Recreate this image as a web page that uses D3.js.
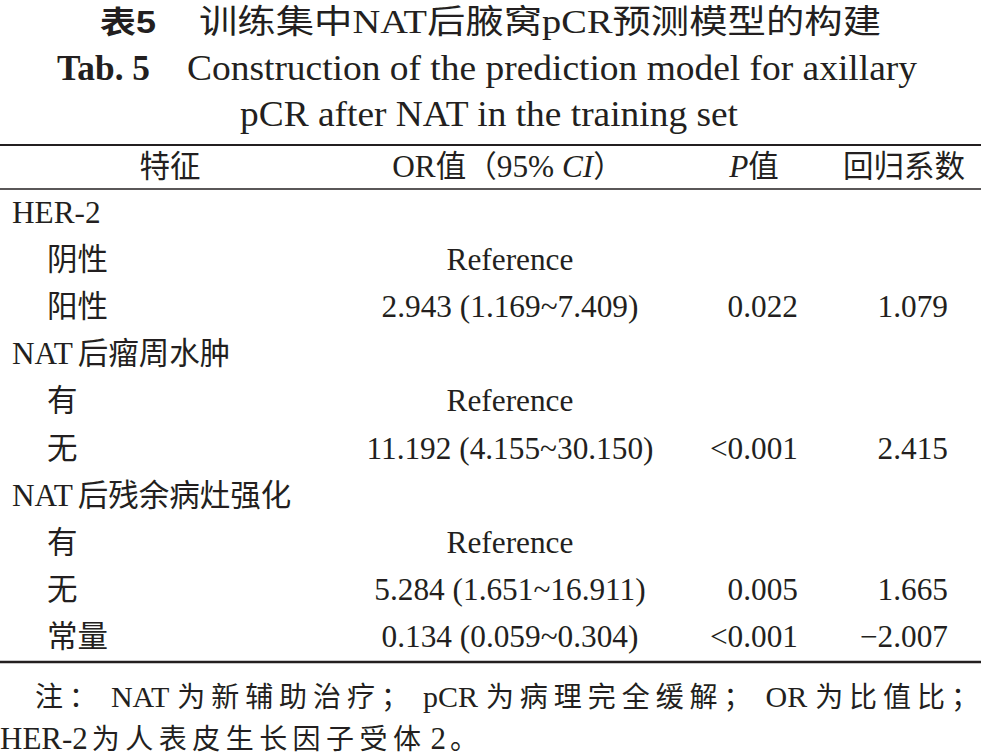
<!DOCTYPE html>
<html><head><meta charset="utf-8">
<script src="https://cdn.jsdelivr.net/npm/d3@7"></script>
<style>
html,body{margin:0;padding:0;background:#fff;}
svg{display:block;}
text{fill:#231f20;}
</style></head>
<body>
<svg id="c" width="981" height="755"></svg>
<script>
// ---- data ----
const titleCN = ["表5", "训练集中NAT后腋窝pCR预测模型的构建"];
const titleEN = ["Tab. 5", "Construction of the prediction model for axillary", "pCR after NAT in the training set"];
const headers = ["特征", "OR", "值（", "95% ", "CI", "）", "P", "值", "回归系数"];
const rowLabels = ["HER-2", "阴性", "阳性", "NAT后瘤周水肿", "有", "无", "NAT后残余病灶强化", "有", "无", "常量"];
const rowLevels = [0, 1, 1, 0, 1, 1, 0, 1, 1, 1];
const orValues = ["", "Reference", "2.943 (1.169~7.409)", "", "Reference", "11.192 (4.155~30.150)", "", "Reference", "5.284 (1.651~16.911)", "0.134 (0.059~0.304)"];
const pValues = ["", "", "0.022", "", "", "<0.001", "", "", "0.005", "<0.001"];
const coefValues = ["", "", "1.079", "", "", "2.415", "", "", "1.665", "\u22122.007"];
const notes = ["注：NAT为新辅助治疗；pCR为病理完全缓解；OR为比值比；", "HER-2为人表皮生长因子受体2。"];

// ---- drawing ----
const W = 981, H = 755;
const svg = d3.select("#c");
const serif = "'Liberation Serif','Times New Roman','Noto Sans CJK SC',serif";
const ink = "#231f20";
const CJK = /[\u3000-\u303f\u4e00-\u9fff\uff00-\uffef]/;
const RUNS = /[\u3000-\u303f\u4e00-\u9fff\uff00-\uffef]+|[^\u3000-\u303f\u4e00-\u9fff\uff00-\uffef]+/g;

function rich(t, str, latin, cjk, gap) {
  const runs = str.match(RUNS) || [];
  runs.forEach((r, k) => {
    const isC = CJK.test(r);
    const last = k === runs.length - 1;
    const body = (isC && last) ? r.slice(0, -1) : r;
    if (body.length) {
      t.append("tspan").attr("class", isC ? "cjk" : "lat")
        .attr("font-size", isC ? cjk : latin)
        .attr("dx", k > 0 ? gap : null).text(body);
    }
    if (isC && last) {
      t.append("tspan").attr("class", "cjkEnd").attr("font-size", cjk)
        .attr("dx", (!body.length && k > 0) ? gap : null).text(r.slice(-1));
    }
  });
  t.property("__gapTotal", gap * Math.max(0, runs.length - 1));
  return t;
}
function justify(t, target) {
  const L = t.node().getComputedTextLength();
  const gapTotal = t.property("__gapTotal") || 0;
  let n = 0;
  t.selectAll("tspan.cjk").each(function () { n += this.textContent.length; });
  const ls = n ? (target - L - gapTotal) / n : 0;
  t.selectAll("tspan.cjk").style("letter-spacing", ls + "px");
}

// title
svg.append("text").attr("x", 100).attr("y", 33)
  .attr("font-family", "'Liberation Sans','Noto Sans CJK SC',sans-serif")
  .attr("font-weight", "bold").attr("font-size", 31)
  .attr("textLength", 56).attr("lengthAdjust", "spacingAndGlyphs").text(titleCN[0]);
svg.append("text").attr("x", 199).attr("y", 33).attr("font-family", serif)
  .attr("font-size", 33).attr("textLength", 682).attr("lengthAdjust", "spacingAndGlyphs").text(titleCN[1]);
svg.append("text").attr("x", 57).attr("y", 80).attr("font-family", serif).attr("font-weight", "bold")
  .attr("font-size", 35).attr("textLength", 93).attr("lengthAdjust", "spacingAndGlyphs").text(titleEN[0]);
svg.append("text").attr("x", 187).attr("y", 80).attr("font-family", serif)
  .attr("font-size", 35).attr("textLength", 730).attr("lengthAdjust", "spacingAndGlyphs").text(titleEN[1]);
svg.append("text").attr("x", 240).attr("y", 126).attr("font-family", serif)
  .attr("font-size", 35).attr("textLength", 498).attr("lengthAdjust", "spacingAndGlyphs").text(titleEN[2]);

// rules
const rules = [{y: 145, w: 2.2}, {y: 189, w: 1.4}, {y: 662, w: 2.6}];
svg.selectAll("line.rule").data(rules).join("line").attr("class", "rule")
  .attr("x1", 0).attr("x2", W).attr("y1", d => d.y).attr("y2", d => d.y)
  .attr("stroke", ink).attr("stroke-width", d => d.w);

// column positions
const col = {label: 12, indent: 47, or: 510, p: 798, coef: 948};
const fsL = 31.3, fsC = 30.5, gap = 5;

// header
const hy = 177;
const hd = (x) => svg.append("text").attr("x", x).attr("y", hy).attr("text-anchor", "middle").attr("font-family", serif).attr("font-size", fsL);
hd(170).append("tspan").attr("font-size", fsC).text(headers[0]);
const orh = hd(508);
orh.append("tspan").text(headers[1]);
orh.append("tspan").attr("font-size", fsC).text(headers[2]);
orh.append("tspan").text(headers[3]);
orh.append("tspan").attr("font-style", "italic").text(headers[4]);
orh.append("tspan").attr("font-size", fsC).text(headers[5]);
const ph = hd(754);
ph.append("tspan").attr("font-style", "italic").text(headers[6]);
ph.append("tspan").attr("font-size", fsC).text(headers[7]);
hd(904).append("tspan").attr("font-size", fsC).text(headers[8]);

// rows
const y = d3.scalePoint().domain(d3.range(rowLabels.length)).range([223, 647]);
const rows = svg.selectAll("g.row").data(rowLabels.map((l, i) => ({l, i}))).join("g").attr("class", "row")
  .attr("transform", d => `translate(0,${y(d.i)})`).attr("font-family", serif).attr("font-size", fsL);
rows.each(function (d) {
  const g = d3.select(this);
  rich(g.append("text").attr("x", rowLevels[d.i] ? col.indent : col.label), d.l, fsL, fsC, gap);
});
rows.append("text").attr("x", col.or).attr("text-anchor", "middle").text(d => orValues[d.i]);
rows.append("text").attr("x", col.p).attr("text-anchor", "end").text(d => pValues[d.i]);
rows.append("text").attr("x", col.coef).attr("text-anchor", "end").text(d => coefValues[d.i]);

// notes
const n1 = rich(svg.append("text").attr("x", 35).attr("y", 707).attr("font-family", serif), notes[0], 30, 28, 8);
justify(n1, 944);
const n2 = rich(svg.append("text").attr("x", 0).attr("y", 749).attr("font-family", serif), notes[1], 31, 28, 4);
justify(n2, 478);
</script>
</body></html>
